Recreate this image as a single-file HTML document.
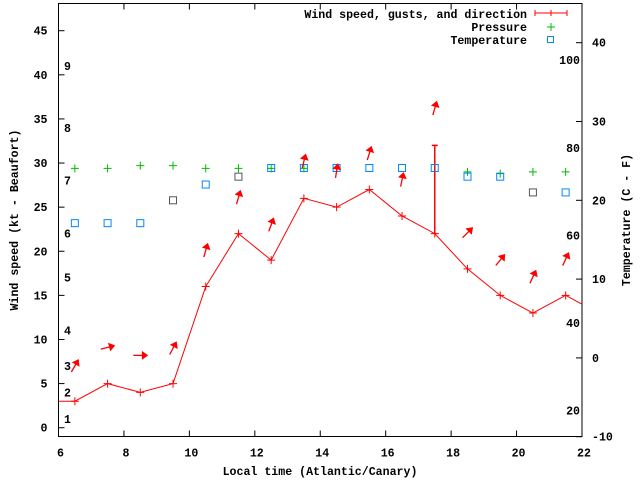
<!DOCTYPE html>
<html><head><meta charset="utf-8"><style>
html,body{margin:0;padding:0;background:#fff;}
svg{display:block;font-family:"Liberation Mono",monospace;font-weight:bold;font-size:11.6px;}
</style></head><body>
<svg id="chart" width="640" height="480" xmlns="http://www.w3.org/2000/svg">
<g id="axes"></g><g id="marks"></g>
<g>
<text x="527" y="18" text-anchor="end">Wind speed, gusts, and direction</text>
<line x1="535" y1="13" x2="567" y2="13" stroke="#f00"/><line x1="535" y1="10" x2="535" y2="16" stroke="#f00"/><line x1="567" y1="10" x2="567" y2="16" stroke="#f00"/><line x1="551" y1="10" x2="551" y2="16" stroke="#f00"/>
<text x="527" y="31" text-anchor="end">Pressure</text>
<path d="M547 27h8M551 23v8" stroke="#0b0"/>
<text x="527" y="44" text-anchor="end">Temperature</text>
<rect x="547.5" y="36.5" width="6" height="6" fill="none" stroke="#08f"/>
</g>
</svg>
<script>
const hours=[6.5,7.5,8.5,9.5,10.5,11.5,12.5,13.5,14.5,15.5,16.5,17.5,18.5,19.5,20.5,21.5];
const wind=[3,5,4,5,16,22,19,26,25,27,24,22,18,15,13,15];
const windStart=3, windEnd=14;
const gustHour=17.5, gustValue=32;
const pressure=[29.4,29.4,29.7,29.7,29.4,29.4,29.4,29.4,29.4,null,null,null,29.0,28.8,29.0,29.0];
const tempC=[17.1,17.1,17.1,20.0,22.0,23.0,24.1,24.1,24.1,24.1,24.1,24.1,23.0,23.0,21.0,21.0];
const arrowY=[7.0,9.1,8.2,9.0,20.1,26.1,23.0,30.2,29.1,31.1,28.1,36.2,22.1,19.0,17.1,19.1];
const arrowDir=[30,76,90,28,16,16,20,14,9,17,12,16,45,39,25,25];
const xTicks=[6,8,10,12,14,16,18,20,22];
const yTicks=[0,5,10,15,20,25,30,35,40,45];
const y2Ticks=[-10,0,10,20,30,40];
const fTicks=[20,40,60,80,100];
const beaufort=[[1,1],[2,4],[3,7],[4,11],[5,17],[6,22],[7,28],[8,34],[9,41]];
const L=58.5,R=582,T=3.5,B=436.5;
const X=v=>L+(v-6)/16*(R-L);
const Y=v=>427.7-v*8.822;
const Y2=c=>436.7-(c+10)*7.88;
const NS="http://www.w3.org/2000/svg";
function mk(p,tag,at,txt){const e=document.createElementNS(NS,tag);for(const k in at)e.setAttribute(k,at[k]);if(txt!=null)e.textContent=txt;p.appendChild(e);return e;}
const ax=document.getElementById('axes'),mg=document.getElementById('marks');
const fr=mk(ax,'rect',{x:L,y:T,width:R-L,height:B-T,fill:'none',stroke:'#000'});


xTicks.forEach(v=>{const x=X(v);mk(ax,'path',{d:`M${x} ${B}v-6M${x} ${T}v6`,stroke:'#000'});
const t=mk(ax,'text',{x:x+2,y:B+20,'text-anchor':'middle'},v);

});
yTicks.forEach(v=>{const y=Y(v);mk(ax,'path',{d:`M${L} ${y}h6`,stroke:'#000'});
const t=mk(ax,'text',{x:L-11,y:y+4,'text-anchor':'end'},v);

});
y2Ticks.forEach(v=>{const y=Y2(v);mk(ax,'path',{d:`M${R} ${y}h-6`,stroke:'#000'});
const t=mk(ax,'text',{x:R+10,y:y+4,'text-anchor':'start'},v);

});
fTicks.forEach(f=>{const t=mk(ax,'text',{x:580,y:Y2((f-32)*5/9)+4,'text-anchor':'end'},f);

});
beaufort.forEach(b=>{const t=mk(ax,'text',{x:64,y:Y(b[1])+4},b[0]);

});
let t=mk(ax,'text',{x:320,y:475,'text-anchor':'middle'},'Local time (Atlantic/Canary)');


t=mk(ax,'text',{x:0,y:0,'text-anchor':'middle',transform:'translate(18,220) rotate(-90)'},'Wind speed (kt - Beaufort)');


t=mk(ax,'text',{x:0,y:0,'text-anchor':'middle',transform:'translate(630,220) rotate(-90)'},'Temperature (C - F)');


let pts=[[X(6),Y(windStart)]].concat(hours.map((h,i)=>[X(h),Y(wind[i])])).concat([[X(22),Y(windEnd)]]);
const wl=mk(mg,'polyline',{points:pts.map(p=>p.join(',')).join(' '),fill:'none',stroke:'#f00'});


hours.forEach((h,i)=>{const x=X(h),y=Y(wind[i]);const p=mk(mg,'path',{d:`M${x-4} ${y}h8M${x} ${y-4}v8`,stroke:'#f00'});

});
const gx=X(gustHour);
const g=mk(mg,'path',{d:`M${gx} ${Y(wind[hours.indexOf(gustHour)])}V${Y(gustValue)}M${gx-3} ${Y(gustValue)}h6`,stroke:'#f00','stroke-width':1.5});


pressure.forEach((p,i)=>{if(p==null)return;const x=X(hours[i]),y=Y(p);const e=mk(mg,'path',{d:`M${x-4} ${y}h8M${x} ${y-4}v8`,stroke:'#0b0'});

});
const gray=[3,5,14];
tempC.forEach((c,i)=>{const x=X(hours[i]),y=Y2(c);const e=mk(mg,'rect',{x:x-3.5,y:y-3.5,width:7,height:7,fill:'none',stroke:gray.includes(i)?'#555':'#08f'});

});
arrowY.forEach((v,i)=>{const cx=X(hours[i]),cy=Y(v),a=arrowDir[i]*Math.PI/180;const dx=Math.sin(a)*7,dy=-Math.cos(a)*7;
const hx=cx+dx,hy=cy+dy;const px=-dy/7*3.5,py=dx/7*3.5;const bx=cx+dx*0.3,by=cy+dy*0.3;
const gEl=mk(mg,'g',{});


mk(gEl,'line',{x1:cx-dx,y1:cy-dy,x2:hx,y2:hy,stroke:'#f00','stroke-width':1.3});
mk(gEl,'polygon',{points:`${hx},${hy} ${bx+px},${by+py} ${bx-px},${by-py}`,fill:'#f00',stroke:'#f00'});});
</script>
</body></html>
